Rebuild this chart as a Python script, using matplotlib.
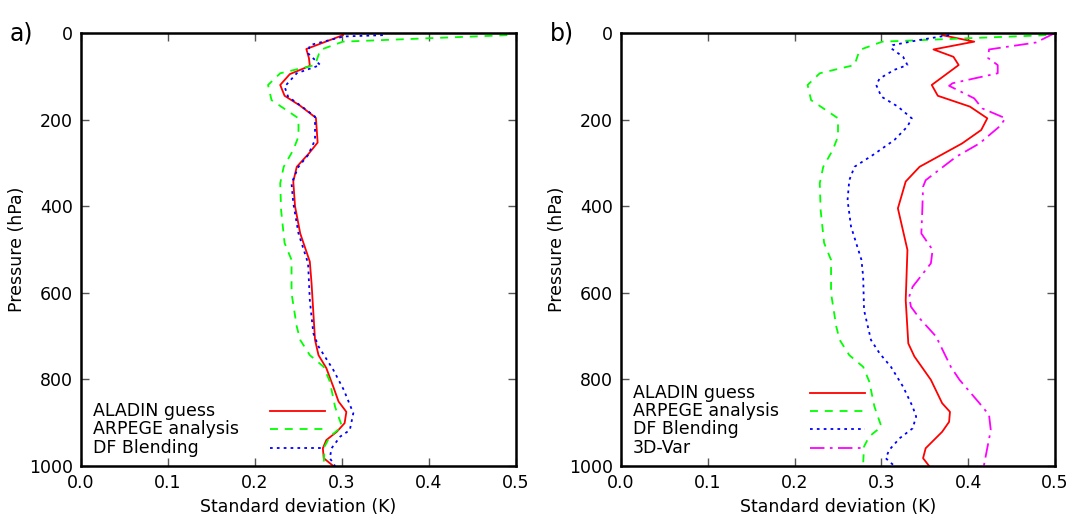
import matplotlib
matplotlib.use('Agg')
import matplotlib.pyplot as plt
from matplotlib.lines import Line2D

# ARPEGE analysis (same in both panels)
arpege_p = [5, 12, 20, 39, 74, 93, 120, 155, 178, 197, 239, 270, 309, 347, 409, 485, 524,
            601, 678, 709, 744, 771, 805, 863, 909, 932, 955, 994, 1000]
arpege_sd = [0.490, 0.401, 0.301, 0.275, 0.269, 0.229, 0.215, 0.219, 0.236, 0.250, 0.250, 0.244,
             0.233, 0.229, 0.230, 0.234, 0.242, 0.242, 0.248, 0.252, 0.263, 0.279, 0.286, 0.292,
             0.300, 0.286, 0.280, 0.279, 0.280]

# panel a
aladin_a_p = [5, 37, 58, 76, 95, 120, 145, 168, 196, 253, 278, 309, 343, 400, 463, 528, 578,
              709, 744, 774, 817, 851, 875, 901, 921, 940, 959, 982, 1000]
aladin_a_sd = [0.301, 0.259, 0.262, 0.263, 0.240, 0.229, 0.234, 0.252, 0.270, 0.272, 0.262,
               0.248, 0.244, 0.246, 0.252, 0.263, 0.265, 0.269, 0.273, 0.282, 0.290, 0.296,
               0.305, 0.303, 0.294, 0.282, 0.278, 0.279, 0.290]
blend_a_p = [5, 8, 28, 47, 74, 93, 124, 147, 170, 193, 247, 282, 309, 347, 393, 463, 532, 617,
             693, 724, 778, 824, 878, 917, 932, 959, 982, 1000]
blend_a_sd = [0.347, 0.302, 0.263, 0.261, 0.275, 0.248, 0.234, 0.238, 0.254, 0.269, 0.269,
              0.261, 0.250, 0.242, 0.244, 0.250, 0.261, 0.263, 0.267, 0.273, 0.290, 0.302,
              0.313, 0.309, 0.298, 0.288, 0.286, 0.292]

# panel b
aladin_b_p = [5, 20, 38, 55, 74, 120, 145, 170, 197, 224, 255, 309, 343, 405, 501, 617, 717,
              747, 801, 855, 875, 898, 921, 959, 982, 1000]
aladin_b_sd = [0.370, 0.407, 0.360, 0.383, 0.389, 0.358, 0.365, 0.402, 0.422, 0.415, 0.393,
               0.344, 0.328, 0.319, 0.330, 0.328, 0.331, 0.338, 0.357, 0.370, 0.379, 0.378,
               0.370, 0.351, 0.348, 0.355]
blend_b_p = [5, 16, 28, 35, 55, 74, 85, 105, 120, 147, 170, 197, 216, 247, 282, 309, 340, 386,
             447, 524, 563, 640, 709, 740, 771, 817, 863, 886, 913, 936, 963, 982, 1000]
blend_b_sd = [0.378, 0.344, 0.313, 0.311, 0.325, 0.330, 0.315, 0.298, 0.294, 0.300, 0.319,
              0.335, 0.330, 0.315, 0.290, 0.269, 0.263, 0.261, 0.265, 0.277, 0.279, 0.280,
              0.288, 0.298, 0.311, 0.325, 0.336, 0.340, 0.336, 0.321, 0.309, 0.305, 0.315]
var3d_p = [1, 22, 38, 58, 74, 93, 116, 122, 151, 174, 197, 216, 255, 286, 340, 355, 416, 463,
           501, 532, 586, 609, 632, 659, 701, 771, 801, 855, 882, 917, 948, 979, 1000]
var3d_sd = [0.499, 0.478, 0.424, 0.423, 0.434, 0.434, 0.382, 0.378, 0.407, 0.416, 0.443, 0.436,
            0.413, 0.386, 0.351, 0.348, 0.347, 0.346, 0.359, 0.357, 0.336, 0.332, 0.334, 0.344,
            0.363, 0.380, 0.390, 0.413, 0.424, 0.426, 0.423, 0.420, 0.418]

xticks = [0.0, 0.1, 0.2, 0.3, 0.4, 0.5]
yticks = [0, 200, 400, 600, 800, 1000]

LW = 1.3
FS = 12.5
styles = {
    'ALADIN guess': dict(color='#ff0000', linestyle='-'),
    'ARPEGE analysis': dict(color='#00ff00', linestyle=(0, (4.4, 3.8))),
    'DF Blending': dict(color='#0000ff', linestyle=(0, (1.5, 2.3))),
    '3D-Var': dict(color='#ff00ff', linestyle=(0, (8.0, 3.0, 1.5, 3.0))),
}

fig = plt.figure(figsize=(10.72, 5.21), dpi=100)
ax_a = fig.add_axes([81 / 1072, 1 - 466 / 521, 435 / 1072, 433 / 521])
ax_b = fig.add_axes([621 / 1072, 1 - 466 / 521, 434 / 1072, 433 / 521])

panels = [
    (ax_a, 'a)', [('ALADIN guess', aladin_a_sd, aladin_a_p),
                  ('ARPEGE analysis', arpege_sd, arpege_p),
                  ('DF Blending', blend_a_sd, blend_a_p)]),
    (ax_b, 'b)', [('ALADIN guess', aladin_b_sd, aladin_b_p),
                  ('ARPEGE analysis', arpege_sd, arpege_p),
                  ('DF Blending', blend_b_sd, blend_b_p),
                  ('3D-Var', var3d_sd, var3d_p)]),
]

for ax, tag, series in panels:
    for name, sd, p in series:
        ax.plot(sd, p, lw=LW, **styles[name])
    ax.set_xlim(0, 0.5)
    ax.set_ylim(1000, 0)
    ax.set_xticks(xticks)
    ax.set_xticklabels(['%.1f' % v for v in xticks])
    ax.set_yticks(yticks)
    ax.tick_params(direction='in', length=6, width=1.0, color='#555555',
                   top=True, right=True, labelsize=FS, pad=6)
    for s in ax.spines.values():
        s.set_linewidth(1.8)
    ax.set_xlabel('Standard deviation (K)', fontsize=FS, labelpad=4)
    ax.set_ylabel('Pressure (hPa)', fontsize=FS, labelpad=2)
    ax.text(-0.165, 1.0, tag, transform=ax.transAxes, fontsize=17,
            ha='left', va='center')
    # key, gnuplot style: text left, sample line right
    n = len(series)
    for i, (name, sd, p) in enumerate(series):
        yy = 0.042 + 0.0425 * (n - 1 - i)
        ax.text(0.028, yy, name, transform=ax.transAxes, fontsize=FS,
                ha='left', va='center')
        ax.add_line(Line2D([0.435, 0.562], [yy, yy], transform=ax.transAxes,
                           lw=LW, **styles[name]))

fig.savefig('out.png', dpi=100)
